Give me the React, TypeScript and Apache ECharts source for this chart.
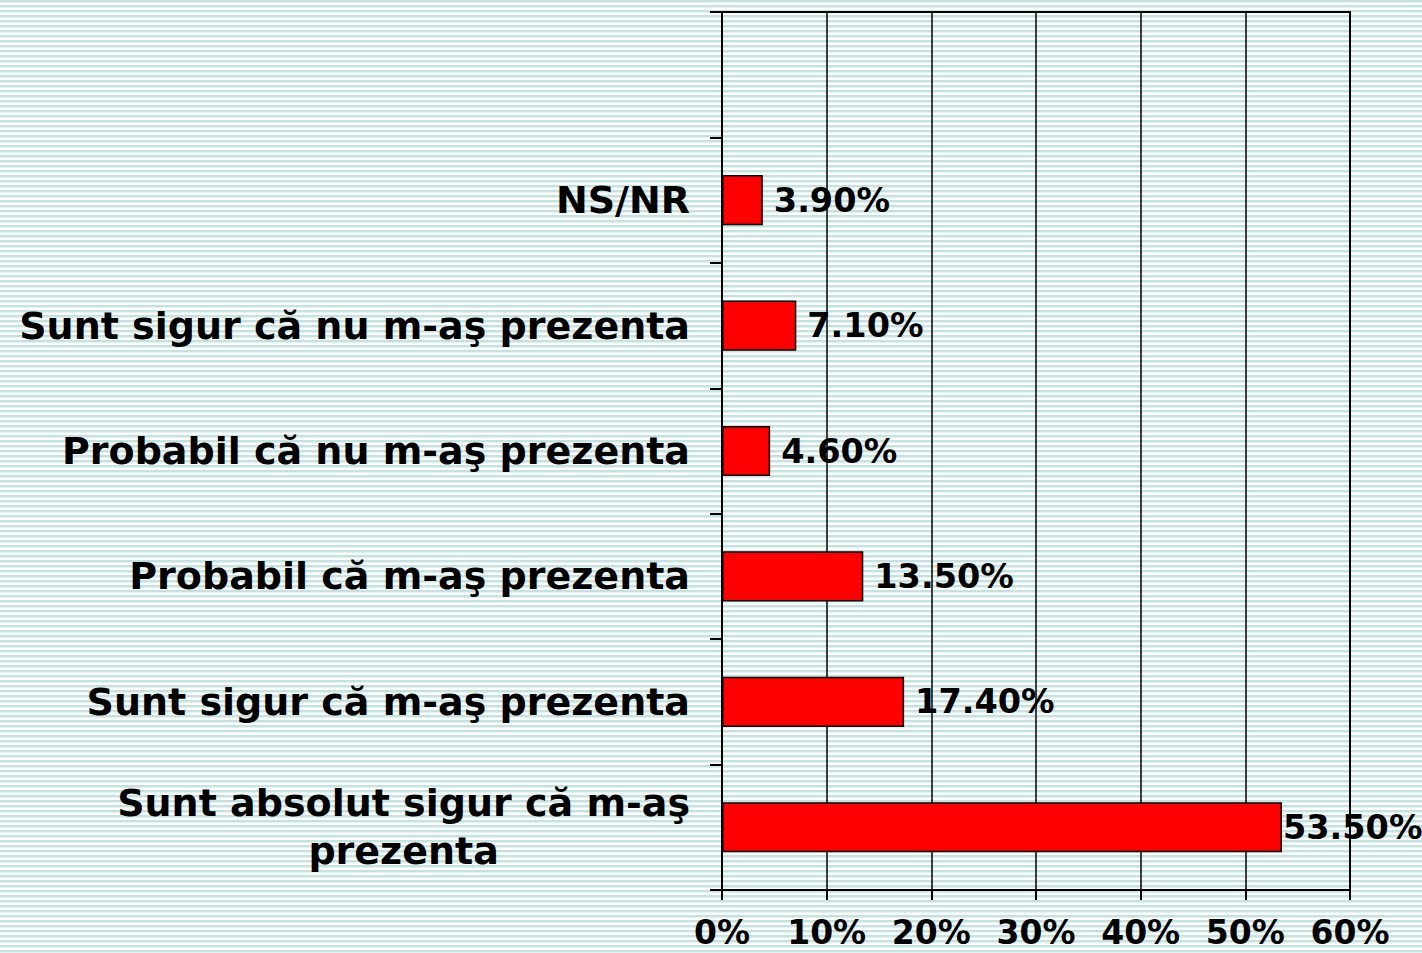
import React, { useEffect, useRef } from "react";
import * as echarts from "echarts";

const categories = [
  "Sunt absolut sigur că m-aş\nprezenta",
  "Sunt sigur că m-aş prezenta",
  "Probabil că m-aş prezenta",
  "Probabil că nu m-aş prezenta",
  "Sunt sigur că nu m-aş prezenta",
  "NS/NR",
  "",
];
const values: (number | null)[] = [53.5, 17.4, 13.5, 4.6, 7.1, 3.9, null];
const xTicks = { min: 0, max: 60, interval: 10 };

export default function App() {
  const ref = useRef<HTMLDivElement>(null);
  useEffect(() => {
    if (!ref.current) return;
    const chart = echarts.init(ref.current, undefined, { renderer: "svg" });
    const font = "'DejaVu Sans', Verdana, sans-serif";
    chart.setOption({
      animation: false,
      backgroundColor: "transparent",
      grid: {
        left: 722,
        right: 72,
        top: 12,
        bottom: 63,
        show: true,
        borderColor: "#000",
        borderWidth: 2,
        backgroundColor: "transparent",
      },
      xAxis: {
        type: "value",
        min: xTicks.min,
        max: xTicks.max,
        interval: xTicks.interval,
        axisLine: { show: true, lineStyle: { color: "#000", width: 2 } },
        axisTick: { show: true, length: 10, lineStyle: { color: "#000", width: 2 } },
        splitLine: { show: true, lineStyle: { color: "#000", width: 1.5 } },
        axisLabel: {
          formatter: "{value}%",
          color: "#000",
          fontFamily: font,
          fontWeight: "bold",
          fontSize: 33,
          margin: 26,
        },
      },
      yAxis: {
        type: "category",
        data: categories,
        axisLine: { show: true, lineStyle: { color: "#000", width: 2 } },
        axisTick: { show: true, length: 12, lineStyle: { color: "#000", width: 2 } },
        splitLine: { show: false },
        axisLabel: {
          color: "#000",
          fontFamily: font,
          fontWeight: "bold",
          fontSize: 38,
          margin: 32,
          interval: 0,
          lineHeight: 48,
          formatter: (v: string) =>
            v
              .split("\n")
              .map((l) => `{c|${l}}`)
              .join("\n"),
          rich: {
            c: {
              align: "center",
              color: "#000",
              fontFamily: font,
              fontWeight: "bold",
              fontSize: 38,
              lineHeight: 48,
            },
          },
        },
      },
      series: [
        {
          type: "bar",
          data: values.map((v, i) =>
            i === 0
              ? { value: v, label: { distance: 1 } }
              : { value: v }
          ),
          barWidth: "40%",
          itemStyle: { color: "#ff0000", borderColor: "#000", borderWidth: 1.5 },
          label: {
            show: true,
            position: "right",
            distance: 11,
            color: "#000",
            fontFamily: font,
            fontWeight: "bold",
            fontSize: 33.5,
            formatter: (p: any) => (p.value == null ? "" : p.value.toFixed(2) + "%"),
          },
        },
      ],
    });
    return () => chart.dispose();
  }, []);
  return (
    <div
      ref={ref}
      style={{
        position: "fixed",
        left: 0,
        top: 0,
        width: 1422,
        height: 953,
        background:
          "repeating-linear-gradient(to bottom, #c4e2e2 0px, #c4e2e2 2px, #e2f1f1 2px, #e2f1f1 3px, #ffffff 3px, #ffffff 5px)",
      }}
    />
  );
}
